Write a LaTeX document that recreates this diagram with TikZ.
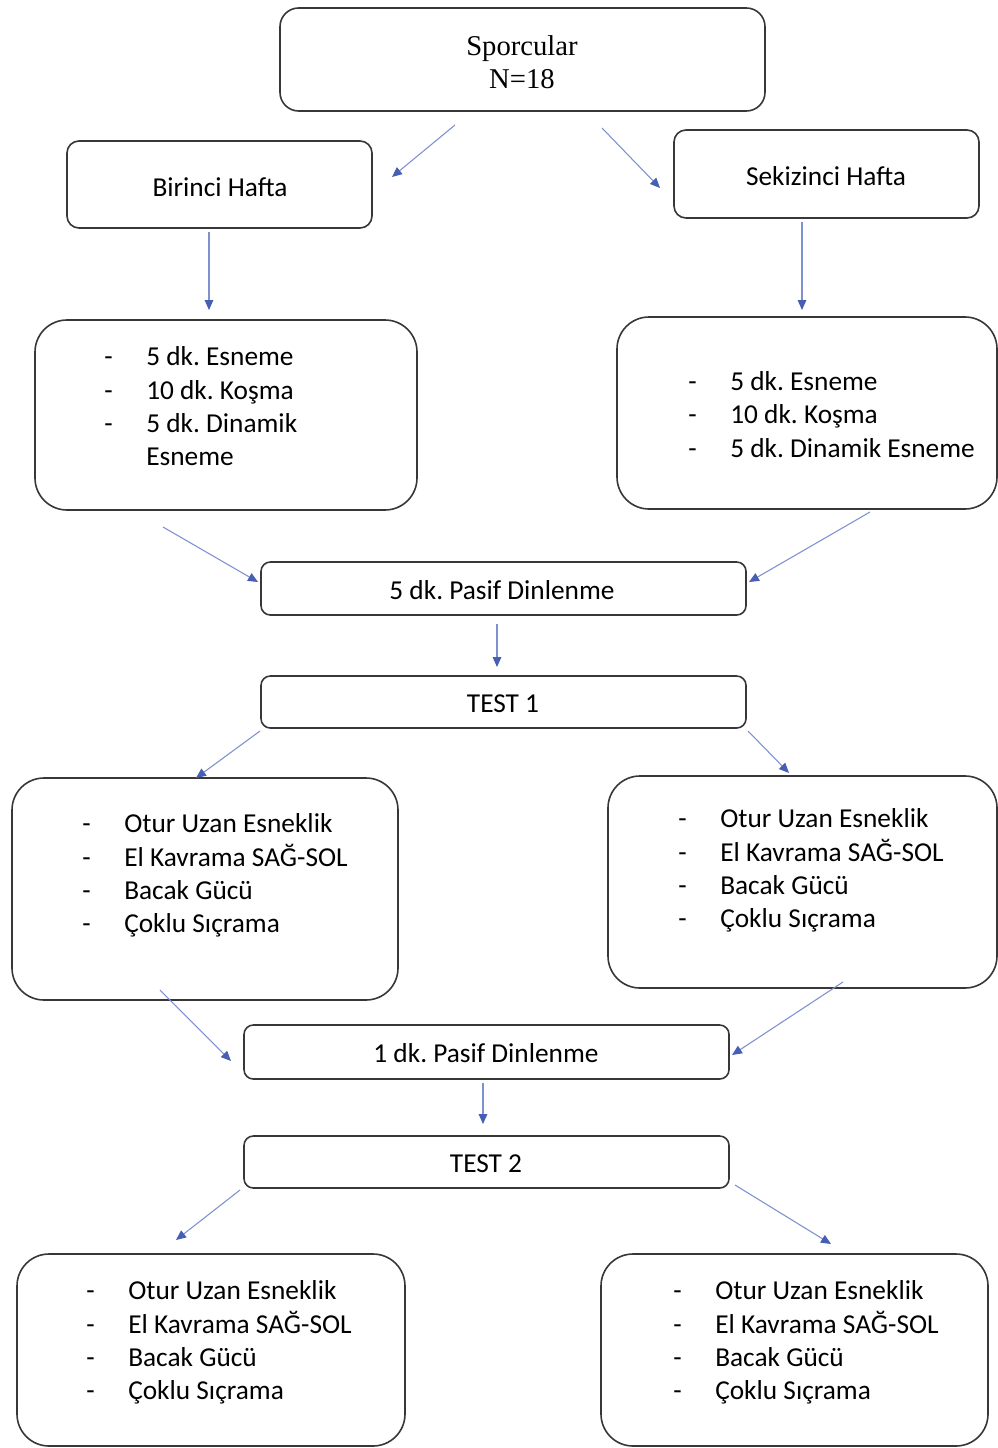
\documentclass[tikz,border=0pt]{standalone}
\usepackage{fontspec}
\setmainfont{Carlito}
\newfontfamily\timesf{Liberation Serif}
\usetikzlibrary{arrows.meta}
\frenchspacing
\definecolor{boxline}{RGB}{55,55,55}
\definecolor{arrline}{RGB}{125,145,205}
\definecolor{arrhead}{RGB}{70,95,180}
\newcommand{\bx}[6]{%
  \node[boxstyle, rounded corners=#6, minimum width={(#4-#2)*0.75pt}, minimum height={(#5-#3)*0.75pt}] (#1) at ({(#2+#4)/2},{(#3+#5)/2}) {};}
\newcommand{\lst}[1]{{\fontsize{20.5}{25}\selectfont\begin{tabular}{@{}p{31.5pt}@{}l@{}}#1\end{tabular}}}
\tikzset{
  boxstyle/.style={draw=boxline, line width=1.2pt, inner sep=0pt, outer sep=0pt},
  lbl/.style={inner sep=0pt, font=\fontsize{20.5}{25}\selectfont},
  listtxt/.style={inner sep=0pt, anchor=west},
  arr/.style={draw=arrline, line width=0.8pt, -{Triangle[length=7.5pt,width=6.5pt,color=arrhead]}}
}
\begin{document}
\begin{tikzpicture}[x=0.75pt,y=-0.75pt]
\useasboundingbox (0,0) rectangle (998,1448);
% boxes
\bx{top}{280}{8}{765}{111}{14pt}
\node[inner sep=0pt, align=center, font=\timesf\fontsize{21.5}{24.75}\selectfont] (toptxt) at (522,62) {Sporcular\\N=18};
\bx{hw1}{67}{141}{372}{228}{9pt}
\node[lbl] (hw1txt) at (220,187) {Birinci Hafta};
\bx{hw8}{674}{130}{979}{218}{9pt}
\node[lbl] (hw8txt) at (826,176) {Sekizinci Hafta};
\bx{l1}{35}{320}{417}{510}{24pt}
\node[listtxt] (l1txt) at (104,409) {\lst{-&5 dk. Esneme\\-&10 dk. Koşma\\-&5 dk. Dinamik\\&Esneme}};
\bx{r1}{617}{317}{997}{509}{24pt}
\node[listtxt] (r1txt) at (688,417) {\lst{-&5 dk. Esneme\\-&10 dk. Koşma\\-&5 dk. Dinamik Esneme}};
\bx{p5}{261}{562}{746}{615}{7pt}
\node[lbl] (p5txt) at (502,590) {5 dk. Pasif Dinlenme};
\bx{t1}{261}{676}{746}{728}{7pt}
\node[lbl] (t1txt) at (503,704) {TEST 1};
\bx{l2}{12}{778}{398}{1000}{24pt}
\node[listtxt] (l2txt) at (82,876) {\lst{-&Otur Uzan Esneklik\\-&El Kavrama SAĞ-SOL\\-&Bacak Gücü\\-&Çoklu Sıçrama}};
\bx{r2}{608}{776}{997}{988}{24pt}
\node[listtxt] (r2txt) at (678,871) {\lst{-&Otur Uzan Esneklik\\-&El Kavrama SAĞ-SOL\\-&Bacak Gücü\\-&Çoklu Sıçrama}};
\bx{p1}{244}{1025}{729}{1079}{7pt}
\node[lbl] (p1txt) at (486,1053) {1 dk. Pasif Dinlenme};
\bx{t2}{244}{1136}{729}{1188}{7pt}
\node[lbl] (t2txt) at (486,1164) {TEST 2};
\bx{l3}{17}{1254}{405}{1446}{24pt}
\node[listtxt] (l3txt) at (86,1343) {\lst{-&Otur Uzan Esneklik\\-&El Kavrama SAĞ-SOL\\-&Bacak Gücü\\-&Çoklu Sıçrama}};
\bx{r3}{601}{1254}{988}{1446}{24pt}
\node[listtxt] (r3txt) at (673,1343) {\lst{-&Otur Uzan Esneklik\\-&El Kavrama SAĞ-SOL\\-&Bacak Gücü\\-&Çoklu Sıçrama}};
% arrow end points
\coordinate (a1s) at (455,125); \coordinate (a1e) at (392,177);
\coordinate (a2s) at (602,128); \coordinate (a2e) at (660,188);
\coordinate (a3s) at (209,232); \coordinate (a3e) at (209,310);
\coordinate (a4s) at (802,222); \coordinate (a4e) at (802,310);
\coordinate (a5s) at (163,527); \coordinate (a5e) at (258,582);
\coordinate (a6s) at (870,512); \coordinate (a6e) at (749,582);
\coordinate (a7s) at (497,624); \coordinate (a7e) at (497,667);
\coordinate (a8s) at (260,731); \coordinate (a8e) at (196,778);
\coordinate (a9s) at (748,731); \coordinate (a9e) at (789,773);
\coordinate (a10s) at (160,990); \coordinate (a10e) at (231,1061);
\coordinate (a11s) at (843,982); \coordinate (a11e) at (732,1055);
\coordinate (a12s) at (483,1083); \coordinate (a12e) at (483,1124);
\coordinate (a13s) at (240,1190); \coordinate (a13e) at (176,1240);
\coordinate (a14s) at (735,1185); \coordinate (a14e) at (831,1244);
\foreach \i in {1,...,14} {\draw[arr] (a\i s) -- (a\i e);}
\end{tikzpicture}
\end{document}
